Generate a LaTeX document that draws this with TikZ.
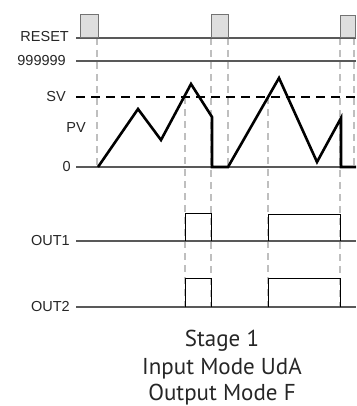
\documentclass[tikz,border=0pt]{standalone}
\usepackage{fontspec}
\setmainfont{Liberation Sans}
\newfontfamily\stagefont{PT Sans}
\usetikzlibrary{positioning}
\begin{document}
\begin{tikzpicture}[x=1pt, y=-1pt,
    lbl/.style={anchor=east, inner sep=0pt, font=\fontsize{14.5}{16}\selectfont, text=black!85},
    stage/.style={anchor=base, inner sep=0pt, font=\stagefont\fontsize{23}{26}\selectfont, text=black!85},
    axis/.style={draw=black!65, line width=1.2pt},
    guide/.style={draw=black!25, line width=1.8pt, dash pattern=on 7pt off 5pt},
    pulse/.style={draw=black, line width=0.9pt},
    resetbox/.style={draw=black!55, fill=black!13, line width=1pt},
    pv/.style={draw=black, line width=2.6pt, line join=miter}]
  \useasboundingbox (0,0) rectangle (356,406);
  % signal labels
  \node[lbl] (reset) at (69,37) {RESET};
  \node[lbl] (max) at (66,61) {999999};
  \node[lbl] (sv) at (66,97) {SV};
  \node[lbl] (pv) at (86,128) {PV};
  \node[lbl] (zero) at (71,167) {0};
  \node[lbl] (out1) at (70,241) {OUT1};
  \node[lbl] (out2) at (70,307) {OUT2};
  % guides
  \draw[guide] (97,38) -- (97,167);
  \draw[guide] (185,97) -- (185,307);
  \draw[guide] (211,38) -- (211,307);
  \draw[guide] (228,38) -- (228,167);
  \draw[guide] (268,97) -- (268,307);
  \draw[guide] (340,38) -- (340,307);
  \draw[guide] (354,38) -- (354,167);
  % base lines
  \draw[axis] (76,38) -- (356,38);
  \draw[axis] (76,61) -- (356,61);
  \draw[axis] (76,167) -- (356,167);
  \draw[axis] (76,241) -- (356,241);
  \draw[axis] (76,307) -- (356,307);
  \draw[line width=1.8pt, dash pattern=on 9pt off 6pt] (76,97) -- (356,97);
  % reset pulses
  \draw[resetbox] (80,38) rectangle (98,15);
  \draw[resetbox] (211,38) rectangle (228,15);
  \draw[resetbox] (340,38) rectangle (355,16);
  % process value
  \draw[pv] (98,167) -- (138,109) -- (161,140) -- (191,84) -- (212,117) -- (212,167)
    -- (228,167) -- (279,78) -- (317,162) -- (341,118) -- (341,167) -- (356,167);
  % outputs
  \draw[pulse] (185,241) -- (185,213) -- (211,213) -- (211,241);
  \draw[pulse] (268,241) -- (268,214) -- (340,214) -- (340,241);
  \draw[pulse] (185,307) -- (185,278) -- (211,278) -- (211,307);
  \draw[pulse] (268,307) -- (268,278) -- (340,278) -- (340,307);
  % caption
  \node[stage] (stage) at (222,346) {Stage 1};
  \node[stage] (inmode) at (222,374) {Input Mode UdA};
  \node[stage] (outmode) at (222,400) {Output Mode F};
\end{tikzpicture}
\end{document}
